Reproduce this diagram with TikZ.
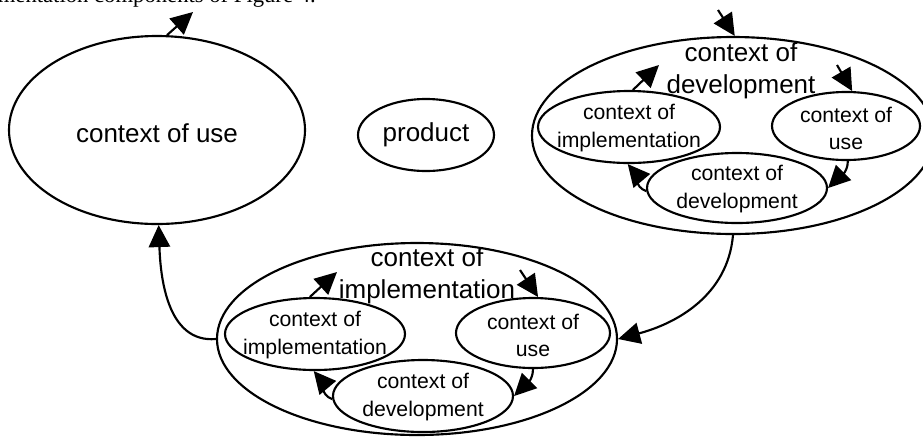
\documentclass[tikz,border=0pt]{standalone}
\usepackage{fontspec}
\setmainfont{Liberation Sans}
\newfontfamily\capfont{Liberation Serif}
\usetikzlibrary{shapes.geometric,arrows.meta}
\begin{document}
\begin{tikzpicture}[x=0.75pt,y=-0.75pt,
  ell/.style={draw, ellipse, line width=1.6pt, inner sep=0pt},
  esize/.style 2 args={minimum width=#1*1.5pt, minimum height=#2*1.5pt},
  bigtxt/.style={font=\fontsize{19.5pt}{24pt}\selectfont, align=center, inner sep=0pt},
  smalltxt/.style={font=\fontsize{15.9pt}{20.3pt}\selectfont, align=center, inner sep=0pt},
  arr/.style={line width=1.6pt, -{Triangle[length=16.5pt,width=16pt]}},
]
\useasboundingbox (0,0) rectangle (923,437);
\clip (0,0) rectangle (923,437);

% caption remnant (cut off by the top edge, as in the reference)
\node[font=\capfont\fontsize{17pt}{20pt}\selectfont, anchor=base east, inner sep=0pt] (cap) at (316,2) {mentation components of Figure 4.};

% left big ellipse
\node[ell, esize={148}{94}] (cuse) at (157,130) {};
\node[bigtxt] (tcuse) at (157,133) {context of use};

% product
\node[ell, esize={68}{36}] (prod) at (426,135) {};
\node[bigtxt] (tprod) at (426,135) {product};

% right group: context of development
\node[ell, esize={201}{98.5}] (Rout) at (733,135.5) {};
\node[bigtxt] (tRout) at (741,71) {context of\\development};
\node[ell, esize={91}{36}] (Rimpl) at (629,127) {};
\node[smalltxt] (tRimpl) at (629,128) {context of\\implementation};
\node[ell, esize={74}{34}] (Ruse) at (846,126) {};
\node[smalltxt] (tRuse) at (846,128) {context of\\use};
\node[ell, esize={90}{35}] (Rdev) at (737,188) {};
\node[smalltxt] (tRdev) at (737,189) {context of\\development};

% bottom group: context of implementation
\node[ell, esize={200}{96}] (Bout) at (417,339) {};
\node[bigtxt] (tBout) at (427,276) {context of\\implementation};
\node[ell, esize={90}{36}] (Bimpl) at (315,334) {};
\node[smalltxt] (tBimpl) at (315,335) {context of\\implementation};
\node[ell, esize={77}{35}] (Buse) at (533,333) {};
\node[smalltxt] (tBuse) at (533,335) {context of\\use};
\node[ell, esize={90}{36}] (Bdev) at (423,396) {};
\node[smalltxt] (tBdev) at (423,397) {context of\\development};

% free ends
\coordinate (cuseOut) at (193,12);
\coordinate (RoutIn) at (718,10);
\coordinate (RimplOut) at (659,65);
\coordinate (RuseIn) at (837,65);
\coordinate (BimplOut) at (337,272);
\coordinate (BuseIn) at (520,270);

% arrows left
\draw[arr] (cuse.84) -- (cuseOut);

% right group arrows
\draw[arr] (RoutIn) -- (Rout.89);
\draw[arr] (Rimpl.84) -- (RimplOut);
\draw[arr] (RuseIn) -- (Ruse.80);
\draw[arr] (Ruse.-87) to[out=-90,in=45] (Rdev.east);
\draw[arr] (Rdev.182) to[out=160,in=-50] (Rimpl.-92);

% bottom group arrows
\draw[arr] (Bimpl.98) -- (BimplOut);
\draw[arr] (BuseIn) -- (Buse.82);
\draw[arr] (Buse.south) to[out=-90,in=45] (Bdev.east);
\draw[arr] (Bdev.182) to[out=160,in=-50] (Bimpl.-92);

% connectors between groups
\draw[arr] (Rout.south) to[out=-95,in=15] (Bout.east);
\draw[arr] (Bout.west) to[out=185,in=-88] (cuse.-89);
\end{tikzpicture}
\end{document}
